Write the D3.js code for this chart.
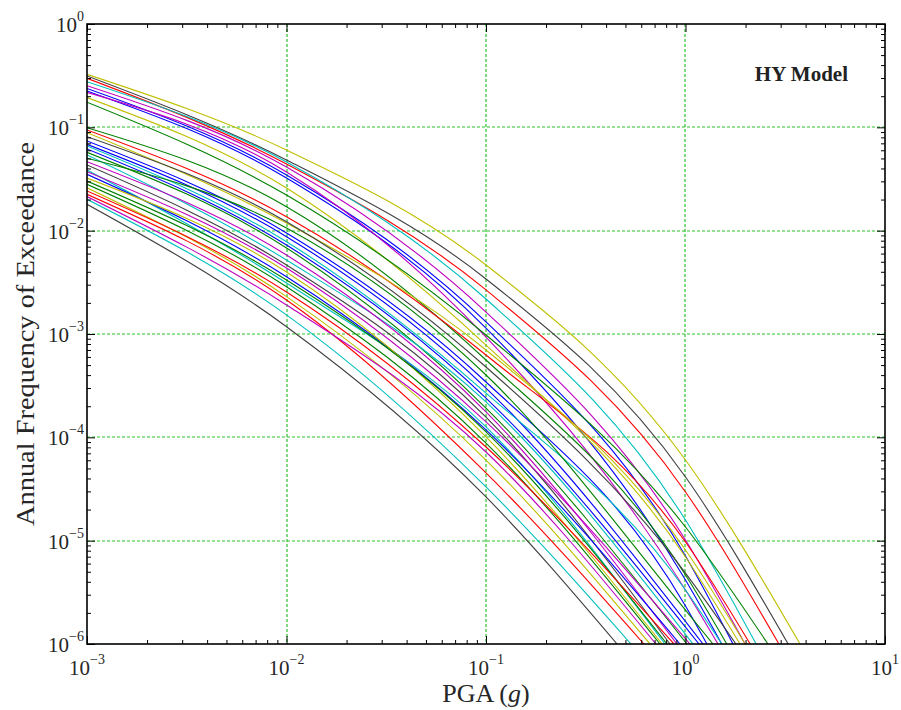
<!DOCTYPE html>
<html>
<head>
<meta charset="utf-8">
<script src="https://cdn.jsdelivr.net/npm/d3@7"></script>
<style>
  body { margin: 0; background: #fff; }
  svg { display: block; }
</style>
</head>
<body>
<div id="chart"></div>
<script>
// hazard curves, HY model: annual rate of exceedance vs PGA (g)
const pgaLevels = [0.001, 0.01, 0.1, 1];
const rateFloor = 1e-6;

const curveColors = [
  "y", "k", "r", "c", "m", "b", "b", "m", "y", "g",
  "g", "r", "y", "k", "b", "b", "c", "b", "g", "c",
  "g", "m", "k", "c", "m", "b", "y", "g", "g", "y",
  "r", "r", "c", "m", "k"
];
const rateAt0001 = [
  0.326, 0.314, 0.298, 0.276, 0.253, 0.238, 0.225, 0.218, 0.194, 0.175,
  0.0992, 0.0942, 0.0887, 0.0812, 0.0737, 0.0685, 0.0660, 0.0617, 0.0573, 0.0540,
  0.0502, 0.0465, 0.0432, 0.0386, 0.0372, 0.0351, 0.0323, 0.0302, 0.0281, 0.0260,
  0.0242, 0.0225, 0.0201, 0.0214, 0.0180
];
const rateAt001 = [
  0.0603, 0.0483, 0.0442, 0.0462, 0.0413, 0.0346, 0.0323, 0.0370, 0.0259, 0.0221,
  0.01706, 0.01365, 0.01186, 0.01221, 0.00949, 0.00874, 0.00782, 0.00726, 0.00680, 0.00520,
  0.01061, 0.00581, 0.00465, 0.00311, 0.00435, 0.00358, 0.00398, 0.00333, 0.00287, 0.00230,
  0.00255, 0.00213, 0.00153, 0.00191, 0.001177
];
const rateAt01 = [
  4.65e-3, 3.41e-3, 2.67e-3, 2.18e-3, 1.63e-3, 1.31e-3, 1.14e-3, 9.35e-4, 7.82e-4, 9.78e-4,
  5.60e-4, 6.26e-4, 7.00e-4, 4.79e-4, 3.43e-4, 3.00e-4, 2.68e-4, 2.40e-4, 1.92e-4, 2.20e-4,
  4.01e-4, 1.76e-4, 1.57e-4, 1.26e-4, 1.41e-4, 1.18e-4, 1.01e-4, 1.13e-4, 8.81e-5, 6.03e-5,
  8.06e-5, 4.52e-5, 3.31e-5, 7.21e-5, 2.65e-5
];
// null where the curve drops below 1e-6 before (or right at) 1 g
const rateAt1 = [
  6.03e-5, 4.13e-5, 2.96e-5, 1.585e-5, 1.015e-5, 7.10e-6, 4.16e-6, 3.33e-6, 6.95e-6, 1.355e-5,
  4.65e-6, 9.70e-6, 8.12e-6, 4.86e-6, 2.33e-6, null, 3.33e-6, null, null, null,
  2.13e-6, null, null, null, null, null, null, null, null, null,
  null, null, null, null, null
];
// PGA where each curve reaches 1e-6
const pgaAtFloor = [
  3.75, 3.27, 2.94, 2.26, 1.99, 1.73, 1.52, 1.455, 1.876, 2.59,
  1.61, 2.11, 1.99, 1.79, 1.28, 1.224, 1.52, 1.169, 1.017, 1.090,
  1.373, 0.906, 0.836, 0.789, 1.053, 0.938, 0.763, 0.808, 0.745, 0.664,
  0.876, 0.619, 0.533, 0.711, 0.454
];

const xMajor = [1e-3, 1e-2, 1e-1, 1e0, 1e1];
const xExp = ["\u22123", "\u22122", "\u22121", "0", "1"];
const yMajor = [1e-6, 1e-5, 1e-4, 1e-3, 1e-2, 1e-1, 1e0];
const yExp = ["\u22126", "\u22125", "\u22124", "\u22123", "\u22122", "\u22121", "0"];

const matlabColor = {
  b: "#0000ff", g: "#008000", r: "#ff0000", c: "#00bfbf",
  m: "#bf00bf", y: "#bfbf00", k: "#404040"
};

const W = 901, H = 710;
const pL = 87, pR = 885, pT = 24, pB = 644;
const serif = "'Liberation Serif', 'DejaVu Serif', serif";

const svg = d3.select("#chart").append("svg")
  .attr("width", W).attr("height", H)
  .style("font-family", serif);

const x = d3.scaleLog().domain([1e-3, 10]).range([pL, pR]);
const y = d3.scaleLog().domain([rateFloor, 1]).range([pB, pT]);

svg.append("defs").append("clipPath").attr("id", "plot")
  .append("rect").attr("x", pL).attr("y", pT)
  .attr("width", pR - pL).attr("height", pB - pT);

// grid (decades only, dotted green)
const grid = svg.append("g")
  .attr("stroke", "#2bc42b").attr("stroke-width", 1.2)
  .attr("stroke-dasharray", "3,2");
xMajor.slice(1, -1).forEach(v => {
  grid.append("line")
    .attr("x1", Math.round(x(v))).attr("x2", Math.round(x(v)))
    .attr("y1", pT).attr("y2", pB);
});
yMajor.slice(1, -1).forEach(v => {
  grid.append("line")
    .attr("y1", Math.round(y(v))).attr("y2", Math.round(y(v)))
    .attr("x1", pL).attr("x2", pR);
});

// curves
const line = d3.line()
  .x(d => x(d[0]))
  .y(d => y(d[1]))
  .curve(d3.curveMonotoneX);

const curves = curveColors.map((c, i) => {
  const pts = [
    [pgaLevels[0], rateAt0001[i]],
    [pgaLevels[1], rateAt001[i]],
    [pgaLevels[2], rateAt01[i]]
  ];
  if (rateAt1[i] !== null) pts.push([pgaLevels[3], rateAt1[i]]);
  pts.push([pgaAtFloor[i], rateFloor]);
  return { color: matlabColor[c], pts };
});

svg.append("g").attr("clip-path", "url(#plot)")
  .selectAll("path").data(curves).enter().append("path")
  .attr("d", d => line(d.pts))
  .attr("fill", "none")
  .attr("stroke", d => d.color)
  .attr("stroke-width", 1.1);

// axes box with inward ticks
const xMinor = x.ticks().filter(v => !xMajor.some(m => Math.abs(m - v) / m < 1e-9));
const yMinor = y.ticks().filter(v => !yMajor.some(m => Math.abs(m - v) / m < 1e-9));

function tickAxis(axis, vals, size, tr) {
  const g = svg.append("g").attr("transform", tr)
    .call(axis.tickValues(vals).tickSize(size).tickSizeOuter(0).tickFormat(""));
  g.select(".domain").remove();
  g.selectAll("line").attr("stroke", "#000").attr("stroke-width", 1);
}
tickAxis(d3.axisBottom(x), xMinor, -4, `translate(0,${pB})`);
tickAxis(d3.axisBottom(x), xMajor, -8, `translate(0,${pB})`);
tickAxis(d3.axisTop(x), xMinor, -4, `translate(0,${pT})`);
tickAxis(d3.axisTop(x), xMajor, -8, `translate(0,${pT})`);
tickAxis(d3.axisLeft(y), yMinor, -4, `translate(${pL},0)`);
tickAxis(d3.axisLeft(y), yMajor, -8, `translate(${pL},0)`);
tickAxis(d3.axisRight(y), yMinor, -4, `translate(${pR},0)`);
tickAxis(d3.axisRight(y), yMajor, -8, `translate(${pR},0)`);

svg.append("rect")
  .attr("x", pL).attr("y", pT)
  .attr("width", pR - pL).attr("height", pB - pT)
  .attr("fill", "none").attr("stroke", "#000").attr("stroke-width", 1.6);

// tick labels
const labelColor = "#262626";
xMajor.forEach((v, i) => {
  const t = svg.append("text")
    .attr("x", x(v)).attr("y", 675)
    .attr("text-anchor", "middle")
    .attr("fill", labelColor)
    .attr("font-size", 21);
  t.append("tspan").text("10");
  t.append("tspan").attr("dy", -11).attr("font-size", 14).text(xExp[i]);
});
yMajor.forEach((v, i) => {
  const t = svg.append("text")
    .attr("x", 84).attr("y", y(v) + 8)
    .attr("text-anchor", "end")
    .attr("fill", labelColor)
    .attr("font-size", 21);
  t.append("tspan").text("10");
  t.append("tspan").attr("dy", -11).attr("font-size", 14).text(yExp[i]);
});

// axis titles
const xt = svg.append("text")
  .attr("x", (pL + pR) / 2).attr("y", 702)
  .attr("text-anchor", "middle")
  .attr("fill", labelColor)
  .attr("font-size", 26);
xt.append("tspan").text("PGA (");
xt.append("tspan").attr("font-style", "italic").text("g");
xt.append("tspan").text(")");

svg.append("text")
  .attr("transform", `translate(34,${(pT + pB) / 2}) rotate(-90)`)
  .attr("text-anchor", "middle")
  .attr("fill", labelColor)
  .attr("font-size", 26)
  .attr("textLength", 384)
  .attr("lengthAdjust", "spacingAndGlyphs")
  .text("Annual Frequency of Exceedance");

svg.append("text")
  .attr("x", 848).attr("y", 81)
  .attr("text-anchor", "end")
  .attr("fill", "#222")
  .attr("font-size", 21)
  .attr("font-weight", "bold")
  .text("HY Model");
</script>
</body>
</html>
